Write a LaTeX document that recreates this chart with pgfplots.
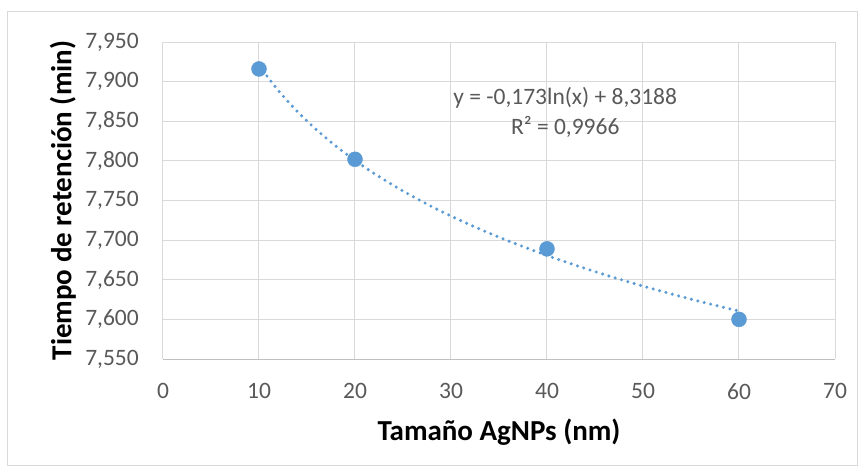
\documentclass[border=0pt]{standalone}
\usepackage{pgfplots}
\pgfplotsset{compat=1.18}
\usepackage{fontspec}
\setmainfont{Carlito}
\definecolor{gridc}{HTML}{D9D9D9}
\definecolor{axc}{HTML}{BFBFBF}
\definecolor{tickc}{HTML}{595959}
\definecolor{ser}{HTML}{5B9BD5}
\begin{document}
\begin{tikzpicture}[x=1pt,y=1pt]
\fill[white] (-163,-113) rectangle (702,359);
\draw[gridc, line width=1pt] (-155,-106) rectangle (694,347);
\begin{axis}[
  at={(0,0)}, anchor=south west,
  scale only axis, width=672pt, height=317pt,
  xmin=0, xmax=70, ymin=7.55, ymax=7.95,
  xtick={0,10,...,70},
  ytick={7.55,7.6,7.65,7.7,7.75,7.8,7.85,7.9,7.95},
  grid=major,
  major grid style={gridc, line width=1pt},
  axis line style={draw=none},
  tick style={draw=none},
  axis x line*=bottom, axis y line*=left,
  ticklabel style={font=\fontsize{23.5}{28}\selectfont, text=tickc},
  /pgf/number format/assume math mode=true,
  yticklabel style={/pgf/number format/fixed, /pgf/number format/fixed zerofill, /pgf/number format/precision=3, /pgf/number format/use comma, /pgf/number format/1000 sep={}, inner sep=0pt, xshift=-24pt},
  xticklabel style={/pgf/number format/fixed, /pgf/number format/1000 sep={}, inner sep=0pt, yshift=-24pt},
  xlabel={Tamaño AgNPs (nm)},
  ylabel={Tiempo de retención (min)},
  label style={font=\fontsize{29}{34}\selectfont\bfseries, text=black},
  xlabel style={at={(axis description cs:0.5,-0.230)}, anchor=center},
  ylabel style={at={(axis description cs:-0.149,0.5)}, anchor=center},
  clip=false,
]
\draw[axc, line width=1pt] (axis cs:0,7.55) -- (axis cs:70,7.55);
\addplot[ser, line width=3.4pt, line cap=round, dash pattern=on 0pt off 6.6pt, smooth, no marks] coordinates {
 (10,7.92045) (12,7.88891) (14,7.86224) (16,7.83914) (18,7.81877) (20,7.80054)
 (22,7.78405) (25,7.76193) (28,7.74233) (30,7.73039) (33,7.71390) (36,7.69885)
 (40,7.68062) (44,7.66414) (48,7.64908) (52,7.63524) (56,7.62241) (60,7.61048)};
\addplot[only marks, mark=*, mark size=7.5pt, mark options={fill=ser, draw=ser}] coordinates {
 (10,7.916) (20,7.802) (40,7.689) (60,7.600)};
\node[align=center, text=tickc, font=\fontsize{23.5}{30}\selectfont, inner sep=0pt] at (axis cs:41.9,7.8615) {y = -0,173ln(x) + 8,3188\\R² = 0,9966};
\end{axis}
\end{tikzpicture}
\end{document}
